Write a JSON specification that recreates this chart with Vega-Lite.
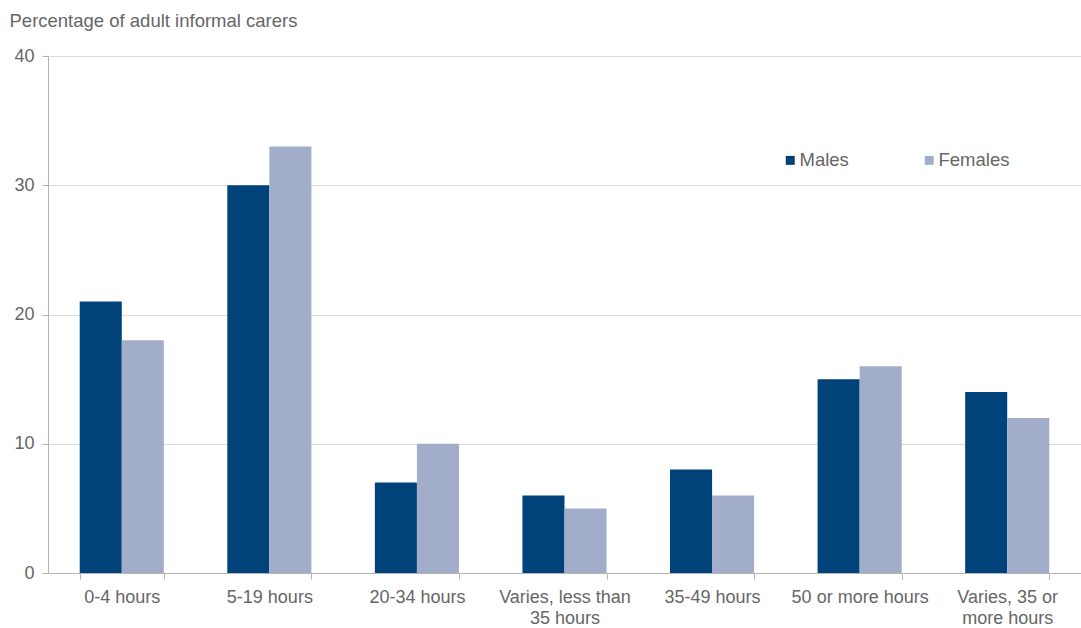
{
  "$schema": "https://vega.github.io/schema/vega-lite/v6.json",
  "autosize": {"type": "none"},
  "width": 1033,
  "height": 517,
  "padding": {"left": 48, "top": 56, "right": 0, "bottom": 55},
  "background": "white",
  "config": {
    "font": "Liberation Sans",
    "view": {"stroke": null},
    "axis": {
      "labelFont": "Liberation Sans",
      "labelFontSize": 18,
      "labelColor": "#666666",
      "domainColor": "#B4B4B4",
      "tickColor": "#B4B4B4",
      "gridColor": "#DCDCDC"
    }
  },
  "data": {
    "values": [
      {"hours": "0-4 hours", "sex": "Males", "pct": 21},
      {"hours": "0-4 hours", "sex": "Females", "pct": 18},
      {"hours": "5-19 hours", "sex": "Males", "pct": 30},
      {"hours": "5-19 hours", "sex": "Females", "pct": 33},
      {"hours": "20-34 hours", "sex": "Males", "pct": 7},
      {"hours": "20-34 hours", "sex": "Females", "pct": 10},
      {"hours": "Varies, less than 35 hours", "sex": "Males", "pct": 6},
      {"hours": "Varies, less than 35 hours", "sex": "Females", "pct": 5},
      {"hours": "35-49 hours", "sex": "Males", "pct": 8},
      {"hours": "35-49 hours", "sex": "Females", "pct": 6},
      {"hours": "50 or more hours", "sex": "Males", "pct": 15},
      {"hours": "50 or more hours", "sex": "Females", "pct": 16},
      {"hours": "Varies, 35 or more hours", "sex": "Males", "pct": 14},
      {"hours": "Varies, 35 or more hours", "sex": "Females", "pct": 12}
    ]
  },
  "mark": {"type": "bar"},
  "encoding": {
    "x": {
      "field": "hours",
      "type": "nominal",
      "sort": null,
      "scale": {"paddingInner": 0.43, "paddingOuter": 0.215},
      "axis": {
        "title": null,
        "labelAngle": 0,
        "tickBand": "extent",
        "tickSize": 6,
        "labelPadding": 9,
        "labelLineHeight": 21,
        "labelExpr": "datum.label == 'Varies, less than 35 hours' ? ['Varies, less than', '35 hours'] : datum.label == 'Varies, 35 or more hours' ? ['Varies, 35 or', 'more hours'] : datum.label",
        "grid": false
      }
    },
    "xOffset": {"field": "sex", "type": "nominal", "sort": ["Males", "Females"]},
    "y": {
      "field": "pct",
      "type": "quantitative",
      "scale": {"domain": [0, 40], "nice": false},
      "axis": {
        "values": [0, 10, 20, 30, 40],
        "tickSize": 6,
        "labelPadding": 8,
        "grid": true,
        "title": "Percentage of adult informal carers",
        "titleAngle": 0,
        "titleAlign": "left",
        "titleBaseline": "middle",
        "titleX": -39,
        "titleY": -36,
        "titleFont": "Liberation Sans",
        "titleFontSize": 18.5,
        "titleFontWeight": "normal",
        "titleColor": "#666666"
      }
    },
    "color": {
      "field": "sex",
      "type": "nominal",
      "scale": {"domain": ["Males", "Females"], "range": ["#00427A", "#A2ADCA"]},
      "legend": {
        "title": null,
        "orient": "none",
        "direction": "horizontal",
        "legendX": 733,
        "legendY": 95,
        "symbolType": "square",
        "symbolSize": 80,
        "symbolStrokeWidth": 0,
        "labelFontSize": 18.5,
        "labelColor": "#666666",
        "labelFont": "Liberation Sans",
        "labelOffset": 0,
        "columnPadding": 71,
        "padding": 0
      }
    }
  }
}
